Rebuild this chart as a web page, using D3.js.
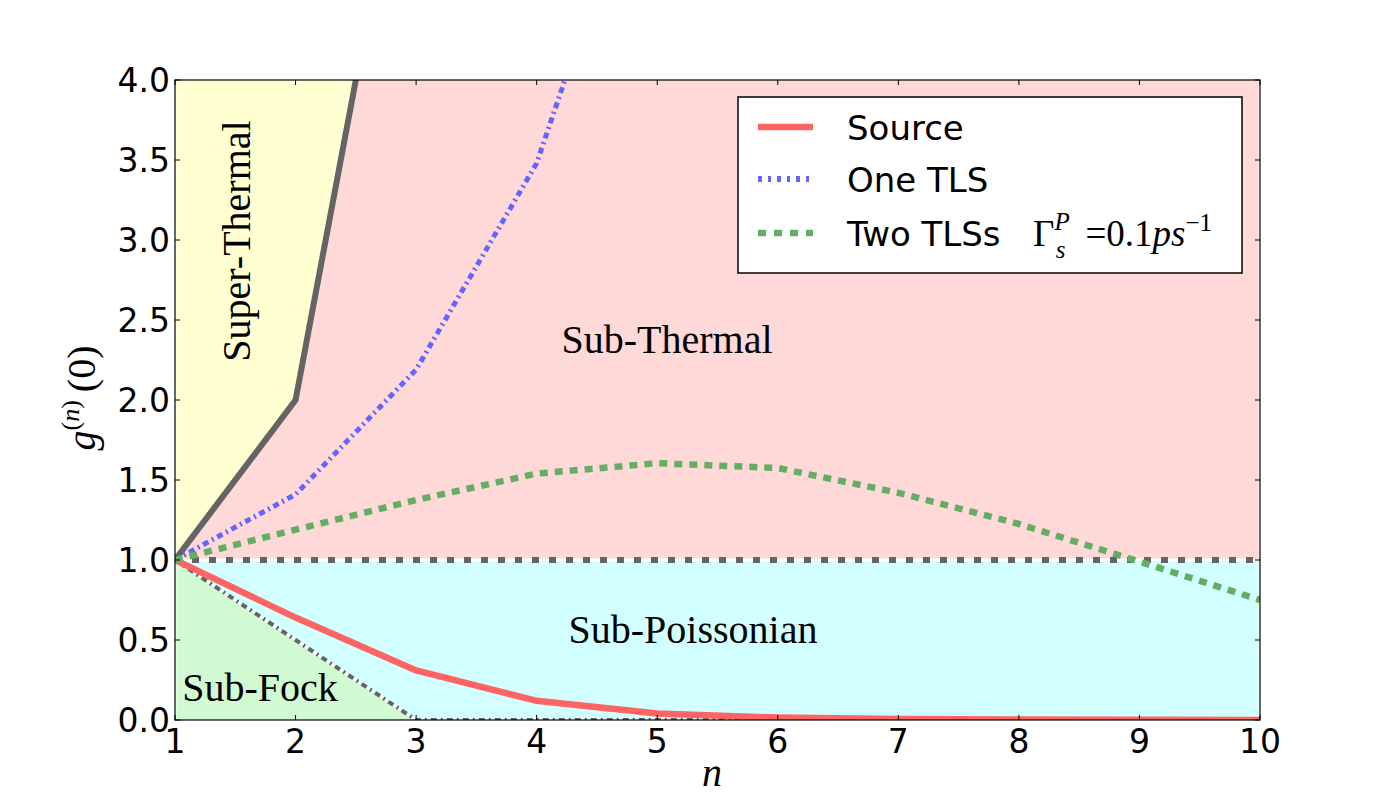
<!DOCTYPE html>
<html>
<head>
<meta charset="utf-8">
<script src="https://cdn.jsdelivr.net/npm/d3@7"></script>
<style>
  body { margin: 0; background: #fff; }
  text { font-family: "DejaVu Sans", sans-serif; }
  .serif { font-family: "Liberation Serif", "DejaVu Serif", serif; }
</style>
</head>
<body>
<svg id="chart" width="1400" height="800"></svg>
<script>
// photon number n
const nValues = [1, 2, 3, 4, 5, 6, 7, 8, 9, 10];
// g^(n)(0) curves
const sourceValues = [1.0, 0.64, 0.31, 0.12, 0.04, 0.015, 0.006, 0.003, 0.001, 0.0];
const oneTLSValues = [1.0, 1.41, 2.19, 3.48, 5.7, 8.5, 12, 16, 21, 27];
const twoTLSValues = [1.0, 1.19, 1.375, 1.54, 1.605, 1.575, 1.42, 1.225, 0.99, 0.75];
// reference boundaries
const thermalValues = [1, 2, 6, 24, 120, 720, 5040, 40320, 362880, 3628800];
const coherentValues = [1, 1, 1, 1, 1, 1, 1, 1, 1, 1];
const fockValues = [1.0, 0.5, 0, 0, 0, 0, 0, 0, 0, 0];
const yTicks = [0, 0.5, 1, 1.5, 2, 2.5, 3, 3.5, 4];
const xTicks = [1, 2, 3, 4, 5, 6, 7, 8, 9, 10];

const svg = d3.select("#chart");
const pLeft = 175, pRight = 1260, pTop = 80, pBottom = 720;
const x = d3.scaleLinear().domain([1, 10]).range([pLeft, pRight]);
const y = d3.scaleLinear().domain([0, 4]).range([pBottom, pTop]);

svg.append("defs").append("clipPath").attr("id", "plotclip")
  .append("rect").attr("x", pLeft).attr("y", pTop)
  .attr("width", pRight - pLeft).attr("height", pBottom - pTop);

const plot = svg.append("g").attr("clip-path", "url(#plotclip)");

const idx = d3.range(nValues.length);
const clampV = v => Math.max(-1, Math.min(v, 60));
const area = (lo, hi) => d3.area()
  .x(i => x(nValues[i]))
  .y0(i => y(clampV(lo(i))))
  .y1(i => y(clampV(hi(i))));

// shaded regions
const regions = [
  { lo: i => thermalValues[i], hi: i => 60, fill: "#ffffd2" },
  { lo: i => coherentValues[i], hi: i => thermalValues[i], fill: "#ffd8d8" },
  { lo: i => fockValues[i], hi: i => coherentValues[i], fill: "#d2ffff" },
  { lo: i => -1, hi: i => fockValues[i], fill: "#d2fad2" }
];
regions.forEach(r => {
  plot.append("path").datum(idx)
    .attr("d", area(r.lo, r.hi))
    .attr("fill", r.fill)
    .attr("stroke", "#fff")
    .attr("stroke-width", 2.5);
});

const line = vals => d3.line().x(i => x(nValues[i])).y(i => y(clampV(vals[i])))(idx);

// boundary lines
plot.append("path").attr("d", line(coherentValues))
  .attr("fill", "none").attr("stroke", "#646464").attr("stroke-width", 6)
  .attr("stroke-dasharray", "7,10");
plot.append("path").attr("d", line(fockValues))
  .attr("fill", "none").attr("stroke", "#646464").attr("stroke-width", 4)
  .attr("stroke-dasharray", "6,4,2,4");
plot.append("path").attr("d", line(thermalValues))
  .attr("fill", "none").attr("stroke", "#646464").attr("stroke-width", 6);

// data lines
plot.append("path").attr("d", line(sourceValues))
  .attr("fill", "none").attr("stroke", "#ff6464").attr("stroke-width", 6.5)
  .attr("stroke-linejoin", "round");
plot.append("path").attr("d", line(oneTLSValues))
  .attr("fill", "none").attr("stroke", "#6464ff").attr("stroke-width", 5)
  .attr("stroke-dasharray", "6,4,2,4");
plot.append("path").attr("d", line(twoTLSValues))
  .attr("fill", "none").attr("stroke", "#64ae64").attr("stroke-width", 6.5)
  .attr("stroke-dasharray", "8,7");

// region labels
const lab = (t, px, py, rot) => {
  const el = svg.append("text").attr("class", "serif")
    .attr("text-anchor", "middle").attr("font-size", 40).attr("fill", "#000").text(t);
  if (rot) el.attr("transform", `translate(${px},${py}) rotate(-90)`);
  else el.attr("x", px).attr("y", py);
};
lab("Super-Thermal", 250, 241, true);
lab("Sub-Thermal", 667, 353);
lab("Sub-Poissonian", 693, 643);
lab("Sub-Fock", 260, 701);

// frame and ticks
svg.append("rect").attr("x", pLeft).attr("y", pTop)
  .attr("width", pRight - pLeft).attr("height", pBottom - pTop)
  .attr("fill", "none").attr("stroke", "#000").attr("stroke-width", 1.2);

const ax = svg.append("g");
xTicks.forEach(t => {
  ax.append("line").attr("x1", x(t)).attr("x2", x(t)).attr("y1", pBottom).attr("y2", pBottom - 5).attr("stroke", "#000");
  ax.append("line").attr("x1", x(t)).attr("x2", x(t)).attr("y1", pTop).attr("y2", pTop + 5).attr("stroke", "#000");
  ax.append("text").attr("x", x(t)).attr("y", 753).attr("text-anchor", "middle")
    .attr("font-size", 33).text(t);
});
yTicks.forEach(t => {
  ax.append("line").attr("x1", pLeft).attr("x2", pLeft + 5).attr("y1", y(t)).attr("y2", y(t)).attr("stroke", "#000");
  ax.append("line").attr("x1", pRight).attr("x2", pRight - 5).attr("y1", y(t)).attr("y2", y(t)).attr("stroke", "#000");
  ax.append("text").attr("x", 170).attr("y", y(t) + 12).attr("text-anchor", "end")
    .attr("font-size", 33).text(d3.format(".1f")(t));
});

// axis labels
svg.append("text").attr("class", "serif").attr("x", 712).attr("y", 786)
  .attr("text-anchor", "middle").attr("font-size", 40).attr("font-style", "italic").text("n");
const yl = svg.append("text").attr("class", "serif").attr("font-size", 40)
  .attr("text-anchor", "middle").attr("transform", "translate(95,398) rotate(-90)");
yl.append("tspan").attr("font-style", "italic").text("g");
yl.append("tspan").attr("font-size", 26).attr("dy", -16).text("(");
yl.append("tspan").attr("font-size", 26).attr("font-style", "italic").text("n");
yl.append("tspan").attr("font-size", 26).text(")");
yl.append("tspan").attr("dy", 16).text("\u2009(0)");

// legend
const lg = svg.append("g");
lg.append("rect").attr("x", 738).attr("y", 97).attr("width", 504).attr("height", 176)
  .attr("fill", "#fff").attr("stroke", "#000").attr("stroke-width", 1.5);
const legendItems = [
  { label: "Source", color: "#ff6464", dash: null, w: 6.5, yy: 127 },
  { label: "One TLS", color: "#6464ff", dash: "4,6,3,6", w: 6, yy: 179 },
  { label: "Two TLSs", color: "#64ae64", dash: "8,8", w: 6.5, yy: 233 }
];
legendItems.forEach(d => {
  lg.append("line").attr("x1", 758).attr("x2", 813).attr("y1", d.yy).attr("y2", d.yy)
    .attr("stroke", d.color).attr("stroke-width", d.w)
    .attr("stroke-dasharray", d.dash);
  lg.append("text").attr("x", 847).attr("y", d.yy + 13).attr("font-size", 34).text(d.label);
});
const m = lg.append("text").attr("class", "serif").attr("x", 1033).attr("y", 246).attr("font-size", 37);
m.append("tspan").text("\u0393");
m.append("tspan").attr("font-size", 25).attr("font-style", "italic").attr("dy", -16).text("P");
m.append("tspan").attr("font-size", 25).attr("font-style", "italic").attr("dx", -14).attr("dy", 28).text("s");
m.append("tspan").attr("dx", 20).attr("dy", -12).text("=0.1");
m.append("tspan").attr("font-style", "italic").text("ps");
m.append("tspan").attr("font-size", 25).attr("dy", -15).text("\u22121");
</script>
</body>
</html>
